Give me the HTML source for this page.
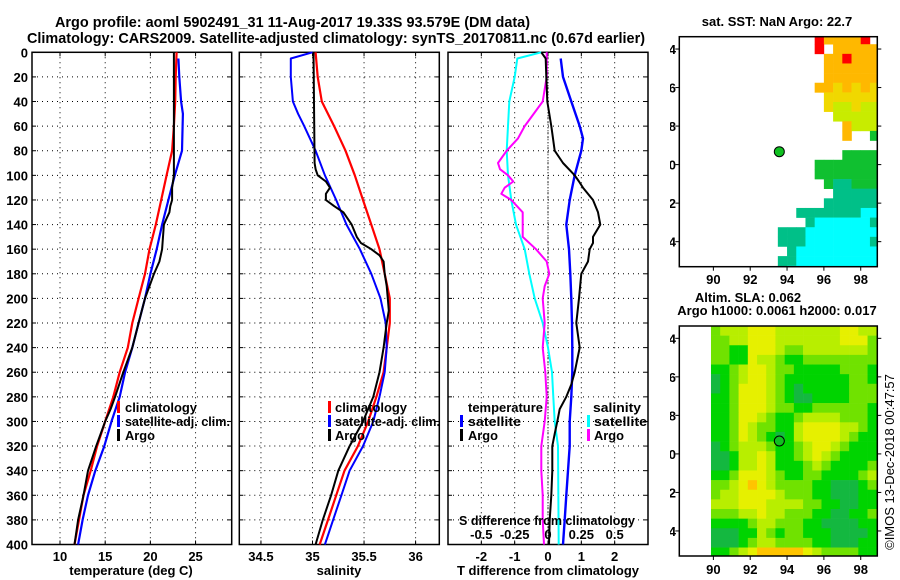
<!DOCTYPE html>
<html>
<head>
<meta charset="utf-8">
<style>
  html,body{margin:0;padding:0;background:#fff;}
  svg{display:block;font-family:"Liberation Sans",Arial,sans-serif;}
  .tk{font-size:13px;font-weight:bold;fill:#000;}
  .lg{font-size:13px;font-weight:bold;fill:#000;}
</style>
</head>
<body>
<svg id="fig" width="900" height="580" viewBox="0 0 900 580" xmlns="http://www.w3.org/2000/svg">
  <rect x="0" y="0" width="900" height="580" fill="#fff"/>
  <text x="55" y="27" font-size="15" font-weight="bold" textLength="475" lengthAdjust="spacingAndGlyphs">Argo profile: aoml 5902491_31 11-Aug-2017 19.33S 93.579E (DM data)</text>
  <text x="27" y="43" font-size="15" font-weight="bold" textLength="618" lengthAdjust="spacingAndGlyphs">Climatology: CARS2009. Satellite-adjusted climatology: synTS_20170811.nc (0.67d earlier)</text>
  <g id="layer"></g>
</svg>
<script>
// ---------- data ----------
const stdDepth = [0,20,40,60,80,100,120,140,160,180,200,220,240,260,280,300,320,340,360,380,400];
const tempClim = [22.9,22.8,22.75,22.6,22.4,21.8,21.2,20.6,19.9,19.4,18.7,18.0,17.5,16.6,15.9,15.0,14.1,13.4,12.6,12.1,11.6];
const tempSatDepth = [5,20,40,50,80,90,100,120,140,160,180,200,220,240,260,280,300,320,340,360,380,400];
const tempSat = [23.1,23.2,23.4,23.6,23.5,23.1,22.7,22.0,21.3,20.7,20.0,19.4,18.7,18.0,17.2,16.6,15.7,14.9,13.9,13.1,12.5,12.0];
const tempArgoDepth = [0,40,80,100,110,120,125,130,135,140,160,170,180,200,220,240,260,280,290,300,320,340,360,380,400];
const tempArgo = [22.6,22.6,22.6,22.6,22.4,22.4,22.2,22.1,21.8,21.5,21.3,21.0,20.4,19.4,18.7,18.0,17.0,16.1,15.6,15.0,14.0,13.1,12.6,12.0,11.6];

const salClim = [35.03,35.05,35.09,35.21,35.32,35.41,35.49,35.57,35.65,35.70,35.75,35.75,35.72,35.69,35.62,35.54,35.44,35.31,35.23,35.15,35.07];
const salSatDepth = [0,5,20,40,50,60,80,100,120,140,160,180,200,220,240,260,280,300,320,340,360,380,400];
const salSat = [35.0,34.79,34.79,34.81,34.86,34.92,35.03,35.12,35.23,35.33,35.46,35.57,35.66,35.71,35.72,35.70,35.65,35.59,35.49,35.36,35.28,35.20,35.12];
const salArgoDepth = [0,90,95,100,105,110,115,120,125,130,140,150,155,160,165,170,180,190,200,210,220,240,260,280,300,320,340,360,380,400];
const salArgo = [35.01,35.02,35.03,35.05,35.13,35.17,35.13,35.13,35.21,35.30,35.38,35.43,35.47,35.57,35.65,35.69,35.70,35.72,35.73,35.74,35.72,35.69,35.65,35.59,35.49,35.36,35.25,35.18,35.10,35.03];

const tdSatDepth = [5,20,40,60,70,80,100,120,140,160,180,200,220,240,260,280,300,320,340,360,380,400];
const tdSat = [0.38,0.45,0.70,0.95,1.05,1.0,0.8,0.65,0.55,0.63,0.67,0.7,0.72,0.73,0.73,0.7,0.65,0.65,0.6,0.55,0.5,0.45];
const tdArgoDepth = [0,5,20,40,60,80,90,100,105,110,120,130,140,150,155,160,170,180,200,220,240,260,270,280,290,300,310,320,340,360,380,400];
const tdArgo = [-0.2,-0.07,-0.05,-0.02,0.1,0.2,0.45,0.8,0.93,1.05,1.35,1.5,1.57,1.35,1.35,1.25,1.2,1.0,0.93,0.85,0.95,0.8,0.7,0.55,0.35,0.28,0.2,0.13,0.13,0.1,0.05,0.03];
const sdSatDepth = [0,5,20,40,60,80,100,120,140,160,180,200,220,240,260,280,300,320,400];
const sdSat = [-0.05,-0.23,-0.25,-0.29,-0.3,-0.31,-0.3,-0.275,-0.24,-0.175,-0.14,-0.1,-0.04,0,0.03,0.04,0.05,0.075,0.08];
const sdArgoDepth = [0,20,40,60,70,80,90,95,100,105,110,115,120,130,140,150,160,170,180,190,200,220,240,260,280,300,320,340,360,380,400];
const sdArgo = [-0.01,-0.01,-0.04,-0.175,-0.225,-0.31,-0.375,-0.36,-0.3,-0.26,-0.325,-0.35,-0.275,-0.19,-0.19,-0.19,-0.09,-0.01,0.01,-0.025,-0.04,-0.025,-0.04,-0.02,-0.01,-0.025,-0.05,-0.05,-0.04,-0.04,-0.03];

const depthTicks = [0,20,40,60,80,100,120,140,160,180,200,220,240,260,280,300,320,340,360,380,400];
const tempTicks = [10,15,20,25];
const salTicks = [34.5,35,35.5,36];
const salTickLabels = ["34.5","35","35.5","36"];
const tdTicks = [-2,-1,0,1,2];
const sdTicks = [-0.5,-0.25,0,0.25,0.5];
const sdTickLabels = ["-0.5","-0.25","0","0.25","0.5"];
const lonTicks = [90,92,94,96,98];
const latTicks = [-14,-16,-18,-20,-22,-24];
const argoLon = 93.58, argoLat = -19.33;

const sstRows = [
"...............roooor",
"...............r.ooooo",
"................ooroooo",
"................oooooo",
"................oooooo",
"...............ooyoyoy",
"................yyyyyy",
"................yllyll",
".................lllll",
"..................olll",
"..................o..g",
"......................",
"..................gggg",
"...............ggggggg",
"...............ggggggg",
"................gttggg",
".................ttttt",
"................tttttt",
".............tttttttcc",
"..............tcccccct",
"...........tttcccccccc",
"...........tttccccccct",
"............tccccccccc",
"...........ttccccccccc",
"...........tcccccccccc"];
const sstColors = {r:"#ff0000",o:"#ffb800",y:"#f0d800",l:"#c8ec00",g:"#10c030",t:"#00c088",c:"#00ffff"};

const slaRows = [
"233344433333334433",
"223344433333334442",
"221144432233333332",
"221143321122222222",
"112344322111112221",
"012344321111111221",
"012444321011111222",
"112444321001111222",
"112444322112222221",
"112443211233332221",
"112432211344443321",
"112432101344443211",
"012333211234432111",
"001334311234321111",
"001334311123211112",
"112444321122111123",
"223454322221100012",
"233444432221100011",
"333444333322110011",
"222334332221100112",
"111123322211000011",
"000113212211100001",
"000123322221100011",
"112345555543222211"];
const slaColors = ["#14b840","#00d400","#70e200","#b8ee00","#e6f000","#ffc400"];

// ---------- helpers ----------
const NS = "http://www.w3.org/2000/svg";
const layer = document.getElementById("layer");
function mk(tag, attrs, parent){ const e=document.createElementNS(NS,tag); for(const k in attrs) e.setAttribute(k,attrs[k]); (parent||layer).appendChild(e); return e; }
function lin(d0,d1,r0,r1){ return v => r0 + (v-d0)*(r1-r0)/(d1-d0); }

const Y0=52.3, Y1=544.5;
const yDepth = lin(0,400,Y0,Y1);
const panels = [
  {name:"temperature-panel", x0:32, x1:231.7, sx: lin(6.9,29.0,32,231.7)},
  {name:"salinity-panel", x0:239.3, x1:439.3, sx: lin(34.29,36.23,239.3,439.3)},
  {name:"difference-panel", x0:448, x1:648, sx: lin(-3,3,448,648)}
];
const sdx = v => panels[2].sx(v*4);

function frame(p, xt, name){
  const g = mk("g",{});
  
  
  depthTicks.forEach(d=>{
    const y=yDepth(d);
    if(d>0 && d<400) mk("line",{x1:p.x0,x2:p.x1,y1:y,y2:y,stroke:"#000","stroke-width":1,"stroke-dasharray":"1 4"},g);
    mk("line",{x1:p.x0,x2:p.x0+4,y1:y,y2:y,stroke:"#000"},g);
    mk("line",{x1:p.x1-4,x2:p.x1,y1:y,y2:y,stroke:"#000"},g);
  });
  xt.forEach(v=>{
    const x=p.sx(v);
    mk("line",{x1:x,x2:x,y1:Y0,y2:Y1,stroke:"#000","stroke-width":1,"stroke-dasharray":"1 4"},g);
    mk("line",{x1:x,x2:x,y1:Y1-4,y2:Y1,stroke:"#000"},g);
    mk("line",{x1:x,x2:x,y1:Y0,y2:Y0+4,stroke:"#000"},g);
  });
  mk("rect",{x:p.x0,y:Y0,width:p.x1-p.x0,height:Y1-Y0,fill:"none",stroke:"#000","stroke-width":1.5},g);
  return g;
}
function line(xs, ds, fx, color, w, name){
  const pts = xs.map((v,i)=> fx(v).toFixed(1)+","+yDepth(ds[i]).toFixed(1)).join(" ");
  const e = mk("polyline",{points:pts,fill:"none",stroke:color,"stroke-width":w,"stroke-linejoin":"round"});
  
  
  return e;
}
function txt(s,x,y,cls,anchor,name,len){
  const e = mk("text",{x:x,y:y,class:cls,"text-anchor":anchor||"start"});
  if(len){ e.setAttribute("textLength",len); e.setAttribute("lengthAdjust","spacingAndGlyphs"); }
  e.textContent=s;
  
  
  return e;
}
function legMark(x,y,color){
  const e = mk("rect",{x:x,y:y-11,width:3,height:12,fill:color});
  
  
}

// ---------- panel 1 ----------
frame(panels[0], tempTicks, "temperature-axes");
depthTicks.forEach(d=>{ txt(String(d), 28, yDepth(d)+5, "tk","end","depth-tick-label"); });
tempTicks.forEach(v=>{ txt(String(v), panels[0].sx(v), 561, "tk","middle","temperature-tick-label"); });
txt("temperature (deg C)", 131, 575, "tk","middle","x-axis-title-temperature");
line(tempClim, stdDepth, panels[0].sx, "#ff0000", 2.2, "temperature-climatology-line");
line(tempSat, tempSatDepth, panels[0].sx, "#0000ff", 2.2, "temperature-satellite-line");
line(tempArgo, tempArgoDepth, panels[0].sx, "#000000", 2, "temperature-argo-line");
legMark(117,412,"#ff0000"); txt("climatology",125,412,"lg","start","legend-climatology",72);
legMark(117,426,"#0000ff"); txt("satellite-adj. clim.",125,426,"lg","start","legend-satellite-adj",105);
legMark(117,440,"#000"); txt("Argo",125,440,"lg","start","legend-argo",30);

// ---------- panel 2 ----------
frame(panels[1], salTicks, "salinity-axes");
salTicks.forEach((v,i)=>{ txt(salTickLabels[i], panels[1].sx(v), 561, "tk","middle","salinity-tick-label"); });
txt("salinity", 339, 575, "tk","middle","x-axis-title-salinity");
line(salClim, stdDepth, panels[1].sx, "#ff0000", 2.2, "salinity-climatology-line");
line(salSat, salSatDepth, panels[1].sx, "#0000ff", 2, "salinity-satellite-line");
line(salArgo, salArgoDepth, panels[1].sx, "#000000", 2, "salinity-argo-line");
legMark(328,412,"#ff0000"); txt("climatology",335,412,"lg","start","legend-climatology-2",72);
legMark(328,426,"#0000ff"); txt("satellite-adj. clim.",335,426,"lg","start","legend-satellite-adj-2",105);
legMark(328,440,"#000"); txt("Argo",335,440,"lg","start","legend-argo-2",30);

// ---------- panel 3 ----------
frame(panels[2], tdTicks, "difference-axes");
mk("line",{x1:panels[2].sx(0),x2:panels[2].sx(0),y1:Y0,y2:Y1,stroke:"#000","stroke-width":1,"stroke-dasharray":"1 2"});
tdTicks.forEach(v=>{ txt(String(v), panels[2].sx(v), 561, "tk","middle","t-diff-tick-label"); });
txt("T difference from climatology", 548, 575, "tk","middle","x-axis-title-t-diff");
line(sdSat, sdSatDepth, sdx, "#00ffff", 2, "salinity-satellite-diff-line");
line(sdArgo, sdArgoDepth, sdx, "#ff00ff", 2, "salinity-argo-diff-line");
line(tdSat, tdSatDepth, panels[2].sx, "#0000ff", 2.4, "temperature-satellite-diff-line");
line(tdArgo, tdArgoDepth, panels[2].sx, "#000000", 2, "temperature-argo-diff-line");
txt("temperature", 468, 412, "lg","start","legend-temperature-heading",75);
legMark(460,426,"#0000ff"); txt("satellite",468,426,"lg","start","legend-t-satellite",53);
legMark(460,440,"#000"); txt("Argo",468,440,"lg","start","legend-t-argo",30);
txt("salinity", 593, 412, "lg","start","legend-salinity-heading",48);
legMark(587,426,"#00ffff"); txt("satellite",594,426,"lg","start","legend-s-satellite",53);
legMark(587,440,"#ff00ff"); txt("Argo",594,440,"lg","start","legend-s-argo",30);
txt("S difference from climatology", 459, 525, "lg","start","s-diff-axis-title",176);
sdTicks.forEach((v,i)=>{ txt(sdTickLabels[i], sdx(v), 539, "tk","middle","s-diff-tick-label"); });

// ---------- maps ----------
const MX0=679.3, MX1=877.3;
const lonX = lin(88.15,98.9,MX0,MX1);
const clip = mk("clipPath",{id:"lblclip"});
mk("rect",{x:670,y:0,width:230,height:580},clip);
function mapFrame(yTop,yBot,name){
  const latY = lin(-13.36,-25.3,yTop,yBot);
  const g = mk("g",{});
  
  
  return {latY:latY,g:g};
}
function mapAxes(m,yTop,yBot,labY){
  latTicks.forEach(l=>{
    const y=m.latY(l);
    mk("line",{x1:MX0-4,x2:MX0,y1:y,y2:y,stroke:"#000"});
    mk("line",{x1:MX1,x2:MX1+4,y1:y,y2:y,stroke:"#000"});
    const t = txt(String(l), 676, y+5, "tk","end","map-lat-tick-label");
    t.setAttribute("clip-path","url(#lblclip)");
  });
  lonTicks.forEach(l=>{
    const x=lonX(l);
    mk("line",{x1:x,x2:x,y1:yBot,y2:yBot+4,stroke:"#000"});
    txt(String(l), x, labY, "tk","middle","map-lon-tick-label");
  });
  mk("rect",{x:MX0,y:yTop,width:MX1-MX0,height:yBot-yTop,fill:"none",stroke:"#000","stroke-width":1.5});
  const c = mk("circle",{cx:lonX(argoLon),cy:m.latY(argoLat),r:5,fill:"#10c020",stroke:"#000","stroke-width":1});
  
  
}

const m1 = mapFrame(36.7,266.7,"sst-map");
const c1 = mk("clipPath",{id:"m1clip"}); mk("rect",{x:MX0,y:36.7,width:MX1-MX0,height:230},c1);
m1.g.setAttribute("clip-path","url(#m1clip)");
sstRows.forEach((row,i)=>{
  for(let j=0;j<row.length;j++){
    const ch=row[j]; if(!sstColors[ch]) continue;
    const x0=lonX(88+0.5*j), x1=lonX(88.5+0.5*j);
    const y0=m1.latY(-13.25-0.5*i), y1=m1.latY(-13.75-0.5*i);
    const r = mk("rect",{x:x0,y:y0,width:x1-x0+0.3,height:y1-y0+0.3,fill:sstColors[ch]},m1.g);
    
    
  }
});
mapAxes(m1,36.7,266.7,284);
txt("sat. SST: NaN Argo: 22.7", 777, 26, "tk","middle","sst-map-title");

const m2 = mapFrame(326,556,"sla-map");
const c2 = mk("clipPath",{id:"m2clip"}); mk("rect",{x:MX0,y:326,width:MX1-MX0,height:230},c2);
m2.g.setAttribute("clip-path","url(#m2clip)");
slaRows.forEach((row,i)=>{
  for(let j=0;j<row.length;j++){
    const v=+row[j];
    const x0=lonX(89.87+0.5*j), x1=lonX(90.37+0.5*j);
    const y0=m2.latY(-13.36-0.5*i), y1=m2.latY(-13.86-0.5*i);
    const r = mk("rect",{x:x0,y:y0,width:x1-x0+0.3,height:y1-y0+0.3,fill:slaColors[v]},m2.g);
    
    
  }
});
mapAxes(m2,326,556,574);
txt("Altim. SLA: 0.062", 748, 302, "tk","middle","sla-map-title");
txt("Argo h1000: 0.0061 h2000: 0.017", 777, 315, "tk","middle","sla-map-subtitle");

const imos = txt("©IMOS 13-Dec-2018 00:47:57", 0, 0, "tk","middle","imos-timestamp");
imos.setAttribute("style","font-weight:normal;font-size:13px");
imos.setAttribute("transform","translate(894,462) rotate(-90)");
</script>
</body>
</html>
